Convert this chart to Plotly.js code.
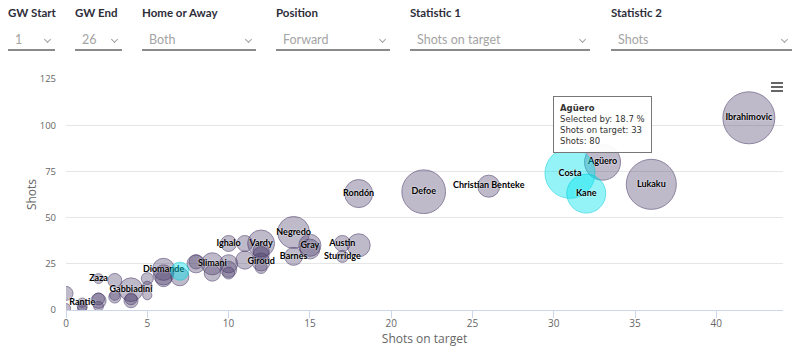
<!DOCTYPE html>
<html>
<head>
<meta charset="utf-8">
<script src="https://cdn.plot.ly/plotly-3.0.1.min.js"></script>
<style>
  html, body { margin:0; padding:0; width:800px; height:353px; background:#fff; overflow:hidden; }
  #chart { position:absolute; left:0; top:0; width:800px; height:353px; }
  .ctl { position:absolute; top:0; font-family: Lato, "Open Sans", sans-serif; }
  .ctl .lab { position:absolute; top:6px; left:0; font-size:11.5px; font-weight:bold; color:#2d2d3a; white-space:nowrap; }
  .ctl .val { position:absolute; top:32px; left:7px; font-size:12.5px; color:#a4a4a4; white-space:nowrap; }
  .ctl .line { position:absolute; top:49px; left:0; height:2px; background:#8a8a8a; }
  .ctl .chev { position:absolute; top:37px; width:4px; height:4px; border-right:1px solid #a0a0a0; border-bottom:1px solid #a0a0a0; transform:rotate(45deg); }
  #menu { position:absolute; left:771px; top:82px; width:12px; }
  #menu div { height:2px; background:#666; margin-bottom:2px; }
</style>
</head>
<body>
<div id="chart"></div>
<div id="controls"></div>
<div id="menu"><div></div><div></div><div></div></div>
<script>
// ---- Control panel (labels and selected values) ----
const controlLabels = ["GW Start", "GW End", "Home or Away", "Position", "Statistic 1", "Statistic 2"];
const controlValues = ["1", "26", "Both", "Forward", "Shots on target", "Shots"];
const controlLeft  = [8, 75, 142, 276, 410, 611];
const controlWidth = [47, 47, 114, 114, 180, 181];

// ---- Chart data ----
const playerNames = ["", "", "", "", "Rantie", "", "", "", "Zaza", "", "", "", "Gabbiadini", "", "", "", "", "",
  "Diomande", "", "", "", "", "", "Slimani", "", "", "", "", "Ighalo", "", "", "Vardy", "", "", "Giroud", "",
  "Negredo", "Barnes", "", "Gray", "Austin", "Sturridge", "", "Rondón", "Defoe", "Christian Benteke", "Agüero",
  "Lukaku", "Ibrahimovic"];
const shotsOnTarget = [0, 0, 1, 1, 1, 2, 2, 2, 2, 3, 3, 3, 4, 4, 4, 5, 5, 5,
  6, 6, 6, 7, 8, 8, 9, 9, 10, 10, 10, 10, 11, 11, 12, 12, 12, 12, 12,
  14, 14, 15, 15, 17, 17, 18, 18, 22, 26, 33,
  36, 42];
const shots = [9, 1, 2, 1, 4, 2, 5, 6, 17, 16, 7, 8, 11, 5, 6, 13, 8, 17,
  22, 19, 17, 18, 25, 26, 25, 20, 25, 22, 20, 36, 36, 27, 36, 32, 30, 26, 23,
  42, 29, 33, 35, 36, 29, 35, 63, 64, 67, 80,
  68, 104];
const selectedBy = [2, 0.3, 0.5, 0.3, 0.3, 0.5, 2.5, 1.2, 0.5, 2, 1.2, 0.6, 7.5, 2, 1.2, 0.4, 0.3, 1.2,
  6.4, 5.1, 3, 4, 4, 2, 6.4, 3, 4, 3, 1.2, 2.9, 2.9, 4, 10, 3, 3, 3.9, 1.2,
  14.5, 3.9, 5, 6.4, 2.9, 1.2, 7.1, 11, 28, 6.4, 18.7,
  37, 40];

const hlNames = ["", "Costa", "Kane"];
const hlShotsOnTarget = [7, 31, 32];
const hlShots = [21, 74, 63];
const hlSelectedBy = [4, 37, 22];

const xTicks = [0, 5, 10, 15, 20, 25, 30, 35, 40];
const yTicks = [0, 25, 50, 75, 100, 125];

// controls
const ctl = document.getElementById('controls');
controlLabels.forEach((lab, i) => {
  const d = document.createElement('div');
  d.className = 'ctl';
  d.style.left = controlLeft[i] + 'px';
  d.style.width = controlWidth[i] + 'px';
  d.innerHTML = '<div class="lab">' + lab + '</div><div class="val">' + controlValues[i] + '</div>' +
    '<div class="line" style="width:' + controlWidth[i] + 'px"></div>' +
    '<div class="chev" style="left:' + (controlWidth[i] - 10) + 'px"></div>';
  ctl.appendChild(d);
});

// bubble diameter scaled by area between min and max pixel size
const minD = 8, maxD = 52, maxSel = 40;
const diam = s => Math.sqrt(minD * minD + (s / maxSel) * (maxD * maxD - minD * minD));

const labelFont = { family: 'Lato, "DejaVu Sans", sans-serif', size: 9, color: '#000', weight: 'bold', shadow: '0px 0px 2px white' };

const traces = [
  {
    type: 'scatter', mode: 'markers+text',
    x: shotsOnTarget, y: shots, text: playerNames,
    textposition: 'middle center', textfont: labelFont,
    marker: { size: selectedBy.map(diam), sizemode: 'diameter',
      color: 'rgba(74,60,105,0.5)', line: { color: 'rgba(74,60,105,0.85)', width: 1 } },
    hoverinfo: 'skip', cliponaxis: true
  },
  {
    type: 'scatter', mode: 'markers+text',
    x: hlShotsOnTarget, y: hlShots, text: hlNames,
    textposition: 'middle center', textfont: labelFont,
    marker: { size: hlSelectedBy.map(diam), sizemode: 'diameter',
      color: 'rgba(0,228,238,0.6)', line: { color: 'rgba(0,205,220,0.8)', width: 1 } },
    hoverinfo: 'skip', cliponaxis: true
  }
];

const layout = {
  width: 800, height: 353,
  margin: { l: 66, r: 17, t: 79, b: 43 },
  paper_bgcolor: 'rgba(0,0,0,0)', plot_bgcolor: 'rgba(0,0,0,0)',
  showlegend: false,
  font: { family: '"Open Sans", sans-serif', color: '#666' },
  xaxis: {
    range: [0, 44.1], tickvals: xTicks, ticktext: xTicks.map(String),
    showgrid: false, zeroline: false,
    showline: true, linecolor: '#ccd6eb', linewidth: 1,
    ticks: 'outside', ticklen: 7, tickcolor: '#ccd6eb',
    ticklabelstandoff: -3,
    tickfont: { size: 10, color: '#666' },
    title: { text: 'Shots on target', font: { size: 12, color: '#666' }, standoff: 3 }
  },
  yaxis: {
    range: [0, 125], tickvals: yTicks, ticktext: yTicks.map(String),
    showgrid: true, gridcolor: '#e6e6e6', zeroline: false, showline: false,
    ticks: '', ticklabelstandoff: 9,
    tickfont: { size: 9.5, color: '#666' },
    title: { text: 'Shots', font: { size: 12, color: '#666' }, standoff: 0 }
  },
  annotations: [{
    xref: 'x', yref: 'y', x: 33, y: 80,
    text: '<b>Agüero</b><br>Selected by: 18.7 %<br>Shots on target: 33<br>Shots: 80',
    showarrow: false, xanchor: 'center', yanchor: 'bottom', yshift: 9,
    align: 'left', bgcolor: 'rgba(255,255,255,0.95)', bordercolor: '#777', borderwidth: 1, borderpad: 6,
    font: { family: '"DejaVu Sans", Verdana, sans-serif', size: 8.5, color: '#333' }
  }]
};

Plotly.newPlot('chart', traces, layout, { displayModeBar: false, staticPlot: true });
</script>
</body>
</html>
